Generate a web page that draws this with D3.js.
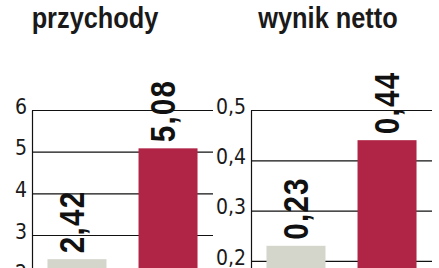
<!DOCTYPE html>
<html>
<head>
<meta charset="utf-8">
<script src="https://cdn.jsdelivr.net/npm/d3@7"></script>
<style>
	body { margin: 0; background: #fff; }
	svg { display: block; }
	.title { font-family: "Liberation Sans", Arial, sans-serif;
		font-weight: bold; font-size: 30px; fill: #1a1a1a; }
	.tick text { font-family: "DejaVu Sans Condensed", "DejaVu Sans", sans-serif;
		font-stretch: condensed; font-size: 21px; fill: #1a1a1a; }
	.tick line, .domain { stroke: #111; stroke-width: 1.2; }
	.value { font-family: "Liberation Sans", Arial, sans-serif;
		font-weight: bold; font-size: 35px; letter-spacing: 1.5px; fill: #111; }
</style>
</head>
<body>
<svg width="439" height="268"></svg>
<script>
// data.........................................................................

var periods = ["poprzednio", "obecnie"];
var przychody = [2.42, 5.08];
var wynikNetto = [0.23, 0.44];
var przychodyTicks = [2, 3, 4, 5, 6];
var wynikTicks = [0.2, 0.3, 0.4, 0.5];
var titles = ["przychody", "wynik netto"];
var colors = ["#d4d5cb", "#b02546"];

// layout.......................................................................

var svg = d3.select("svg"),
	top0 = 110,
	bottom0 = 360,
	narrow = 0.845;	// squeeze for a condensed look

var panels = [
	{title: titles[0], values: przychody, ticks: przychodyTicks, max: 6,
	 x0: 32, x1: 213, titleX: 95, labelDx: 7},
	{title: titles[1], values: wynikNetto, ticks: wynikTicks, max: 0.5,
	 x0: 251, x1: 432, titleX: 328, labelDx: 12}
];

var comma = d3.formatLocale({decimal: ",", thousands: " ", grouping: [3], currency: ["", " zł"]});

panels.forEach(drawPanel);

// panel........................................................................

function drawPanel(p, i){
	var y = d3.scaleLinear()
		.domain([0, p.max])
		.range([bottom0 + (i ? 1.5 : 0), top0]);

	var x = d3.scaleBand()
		.domain(periods)
		.range([p.x0, p.x1])
		.paddingInner(0.352)
		.paddingOuter(0.17);

	var fmt = i ? comma.format(".1f") : comma.format("d");

	var g = svg.append("g");

	// title
	g.append("text")
		.attr("class", "title")
		.attr("transform", "translate(" + p.titleX + ",28) scale(" + narrow + ",1)")
		.attr("text-anchor", "middle")
		.text(p.title);

	// axis with gridlines
	var axis = g.append("g")
		.attr("transform", "translate(" + p.x0 + ",0)")
		.call(d3.axisLeft(y)
			.tickValues(p.ticks)
			.tickSize(-(p.x1 - p.x0))
			.tickSizeOuter(0)
			.tickPadding(5)
			.tickFormat(fmt));
	axis.selectAll(".tick text").attr("dy", "0.15em");

	// bars
	g.append("g").selectAll("rect")
		.data(p.values)
		.enter().append("rect")
			.attr("x", function(d, j) { return x(periods[j]); })
			.attr("y", function(d) { return y(d); })
			.attr("width", x.bandwidth())
			.attr("height", function(d) { return y(0) - y(d); })
			.attr("fill", function(d, j) { return colors[j]; });

	// value labels, rotated
	g.append("g").selectAll("text")
		.data(p.values)
		.enter().append("text")
			.attr("class", "value")
			.attr("transform", function(d, j) {
				var cx = x(periods[j]) + x.bandwidth() / 2 + p.labelDx;
				return "translate(" + cx + "," + (y(d) - 6) + ") rotate(-90) scale(" + narrow + ",1)";
			})
			.text(function(d) { return comma.format(".2f")(d); });
}
</script>
</body>
</html>
